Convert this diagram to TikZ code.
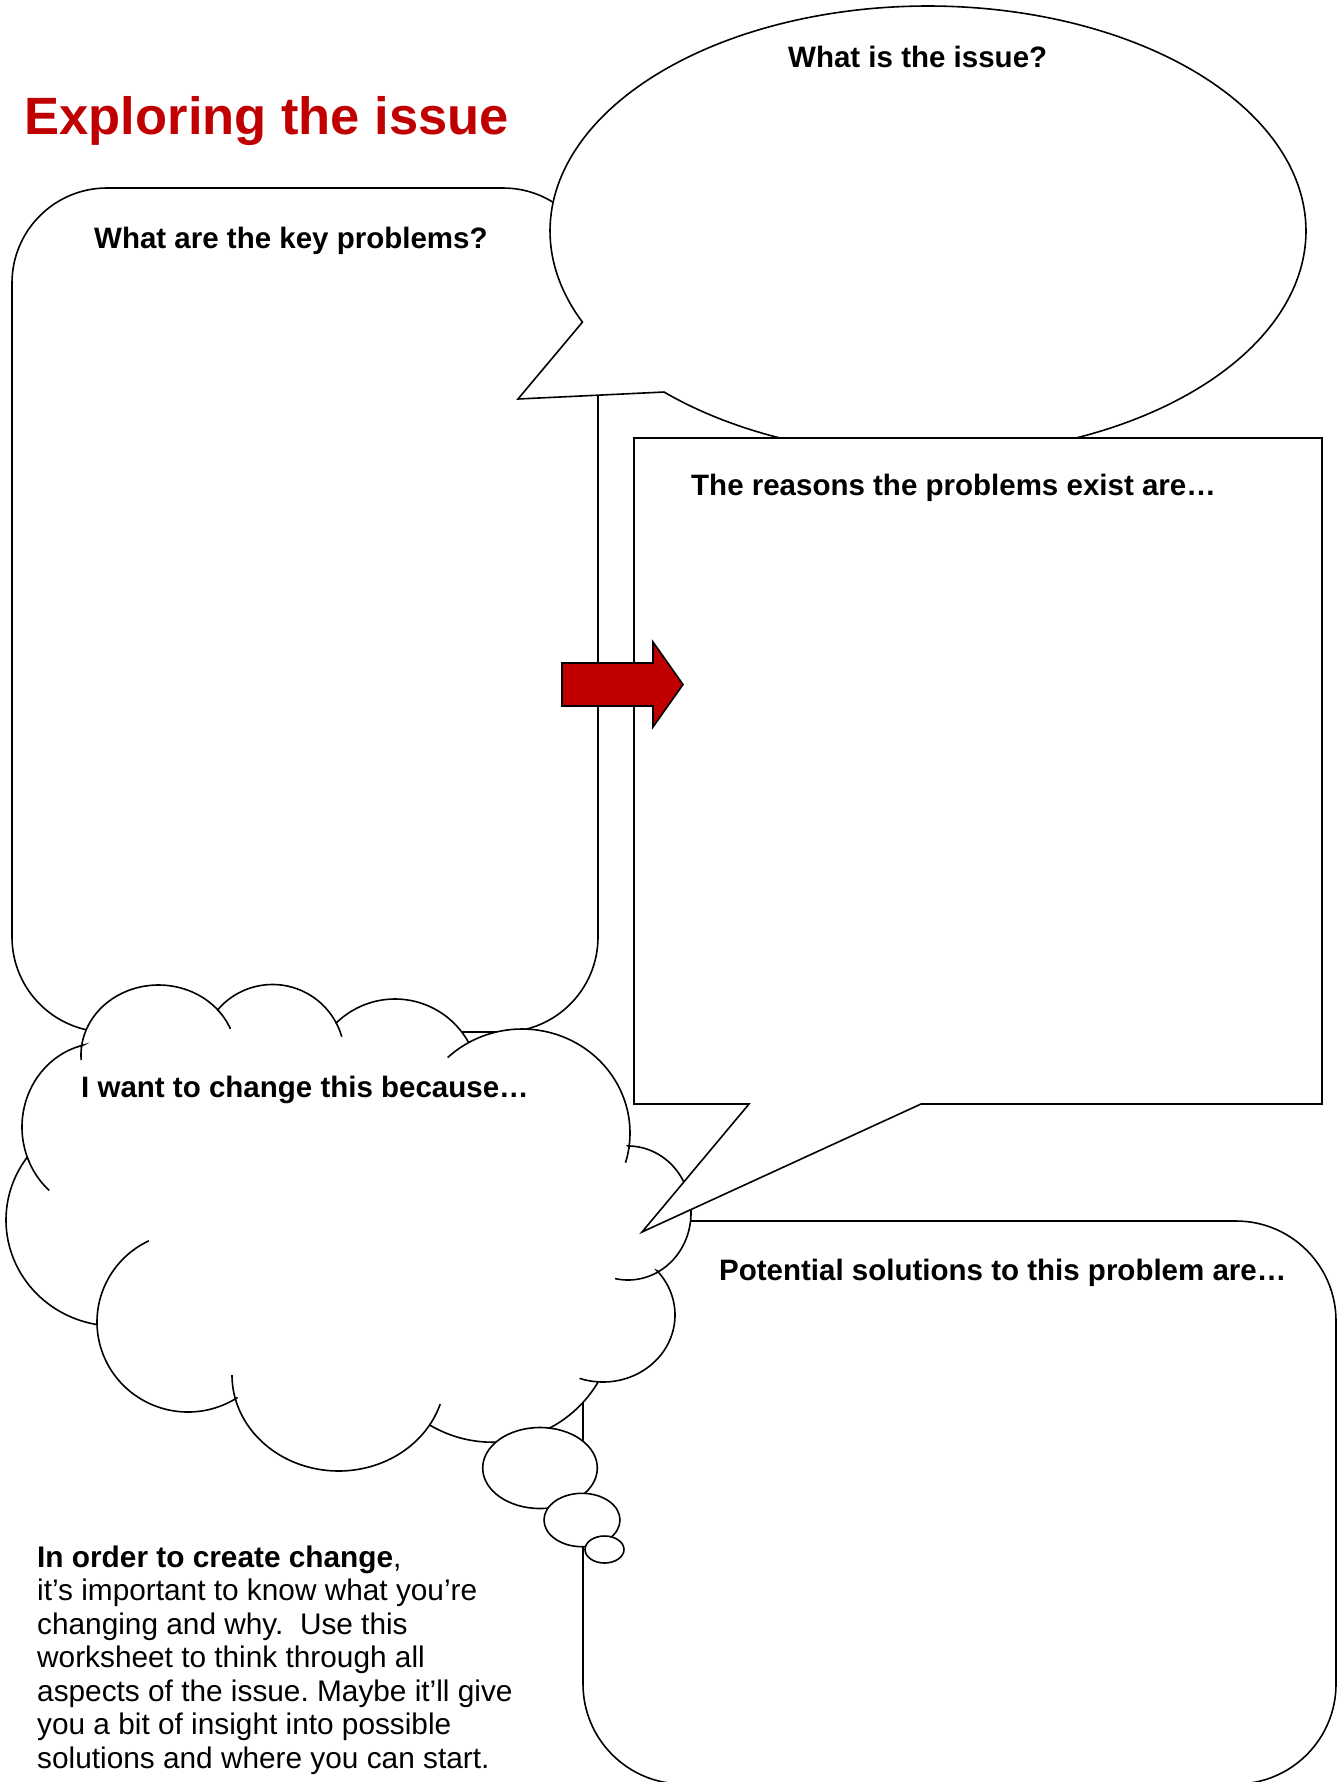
\documentclass[tikz,border=0pt]{standalone}
\usepackage{fontspec}
\setmainfont{Liberation Sans}
\definecolor{issuered}{RGB}{192,0,0}
\tikzset{
  shapebox/.style={draw=black, line width=1.6pt, fill=white, line join=miter},
  crease/.style={draw=black, line width=1.6pt},
  boxhead/.style={anchor=base west, inner sep=0pt, font=\fontsize{29.5}{34}\selectfont\bfseries},
  bodyline/.style={anchor=base west, inner sep=0pt, font=\fontsize{29.8}{34}\selectfont\frenchspacing},
  titletext/.style={anchor=base west, inner sep=0pt, text=issuered, font=\fontsize{52.5}{60}\selectfont\bfseries},
  redarrow/.style={draw=black, line width=1.6pt, fill=issuered, line join=miter},
}
\begin{document}
\begin{tikzpicture}[x=1pt,y=-1pt]
\useasboundingbox (0,0) rectangle (1340,1782);
\fill[white] (0,0) rectangle (1340,1782);

% key problems box
\path[shapebox, rounded corners=95pt] (12,188) rectangle (598,1032);

% speech bubble: what is the issue
\path[shapebox] (518,399) -- plot[domain=-203.9:134.3, samples=240, variable=\t] ({928+378*cos(\t)},{231+225*sin(\t)}) -- cycle;

% solutions box
\path[shapebox, rounded corners=100pt] (583,1221) rectangle (1336,1784);

% cloud
\path[shapebox]
 plot[domain=158.2:256.7, samples=60, variable=\t] ({101+79*cos(\t)},{1127+84*sin(\t)})
 -- plot[domain=187.5:320.1, samples=60, variable=\t] ({158.5+77.5*cos(\t)},{1055+70*sin(\t)})
 -- plot[domain=220.5:331.9, samples=60, variable=\t] ({272.5+72*cos(\t)},{1056.5+72*sin(\t)})
 -- plot[domain=226.4:331.3, samples=60, variable=\t] ({395+84*cos(\t)},{1083+84*sin(\t)})
 -- plot[domain=240:367.8, samples=60, variable=\t] ({522+108*cos(\t)},{1133+104*sin(\t)})
 -- plot[domain=270:420.8, samples=60, variable=\t] ({628+63*cos(\t)},{1213+67*sin(\t)})
 -- plot[domain=-41.3:94, samples=60, variable=\t] ({603+72*cos(\t)},{1315+67*sin(\t)})
 -- plot[domain=30.7:120.5, samples=60, variable=\t] ({492.4+123*cos(\t)},{1319.2+123*sin(\t)})
 -- plot[domain=31.3:165.7, samples=60, variable=\t] ({338.6+106.6*cos(\t)},{1375+96*sin(\t)})
 -- plot[domain=57:179.4, samples=60, variable=\t] ({188+91*cos(\t)},{1322+90*sin(\t)})
 -- plot[domain=99.6:216.2, samples=60, variable=\t] ({115+109*cos(\t)},{1220+106*sin(\t)})
 -- cycle;
% cloud creases
\draw[crease] plot[domain=175.9:187.5, samples=12, variable=\t] ({158.5+77.5*cos(\t)},{1055+70*sin(\t)});
\draw[crease] plot[domain=320.1:338.1, samples=12, variable=\t] ({158.5+77.5*cos(\t)},{1055+70*sin(\t)});
\draw[crease] plot[domain=331.9:344.1, samples=12, variable=\t] ({272.5+72*cos(\t)},{1056.5+72*sin(\t)});
\draw[crease] plot[domain=226.5:240, samples=12, variable=\t] ({522+108*cos(\t)},{1133+104*sin(\t)});
\draw[crease] plot[domain=367.8:376.6, samples=12, variable=\t] ({522+108*cos(\t)},{1133+104*sin(\t)});
\draw[crease] plot[domain=420.8:461.8, samples=20, variable=\t] ({628+63*cos(\t)},{1213+67*sin(\t)});
\draw[crease] plot[domain=94:109, samples=12, variable=\t] ({603+72*cos(\t)},{1315+67*sin(\t)});
\draw[crease] plot[domain=17.6:31.3, samples=12, variable=\t] ({338.6+106.6*cos(\t)},{1375+96*sin(\t)});
\draw[crease] plot[domain=165.7:180, samples=12, variable=\t] ({338.6+106.6*cos(\t)},{1375+96*sin(\t)});
\draw[crease] plot[domain=179.4:244.5, samples=30, variable=\t] ({188+91*cos(\t)},{1322+90*sin(\t)});
\draw[crease] plot[domain=131:158.2, samples=15, variable=\t] ({101+79*cos(\t)},{1127+84*sin(\t)});

% thought bubbles
\path[shapebox] (540,1468) ellipse [x radius=57.3pt, y radius=40.5pt];
\path[shapebox] (582,1520) ellipse [x radius=38pt, y radius=26.7pt];
\path[shapebox] (604.5,1549.5) ellipse [x radius=19.5pt, y radius=13.5pt];

% reasons box with tail
\path[shapebox] (634,438) -- (1322,438) -- (1322,1104) -- (921,1104) -- (642,1232) -- (749,1104) -- (634,1104) -- cycle;

% red arrow
\path[redarrow] (562,663) -- (653,663) -- (653,642) -- (683,684.5) -- (653,727) -- (653,706) -- (562,706) -- cycle;

% texts
\node[titletext] (title) at (24.5,135) {Exploring the issue};
\node[boxhead] (issue) at (788,68) {What is the issue?};
\node[boxhead] (problems) at (94,248) {What are the key problems?};
\node[boxhead] (reasons) at (691,495) {The reasons the problems exist are…};
\node[boxhead] (because) at (81,1097) {I want to change this because…};
\node[boxhead] (solutions) at (719,1280) {Potential solutions to this problem are…};

\node[bodyline] (body1) at (37,1567) {\textbf{In order to create change},};
\node[bodyline] (body2) at (37,1600.5) {it’s important to know what you’re};
\node[bodyline] (body3) at (37,1634) {changing and why.\ \ Use this};
\node[bodyline] (body4) at (37,1667.5) {worksheet to think through all};
\node[bodyline] (body5) at (37,1701) {aspects of the issue. Maybe it’ll give};
\node[bodyline] (body6) at (37,1734.5) {you a bit of insight into possible};
\node[bodyline] (body7) at (37,1768) {solutions and where you can start.};
\end{tikzpicture}
\end{document}
